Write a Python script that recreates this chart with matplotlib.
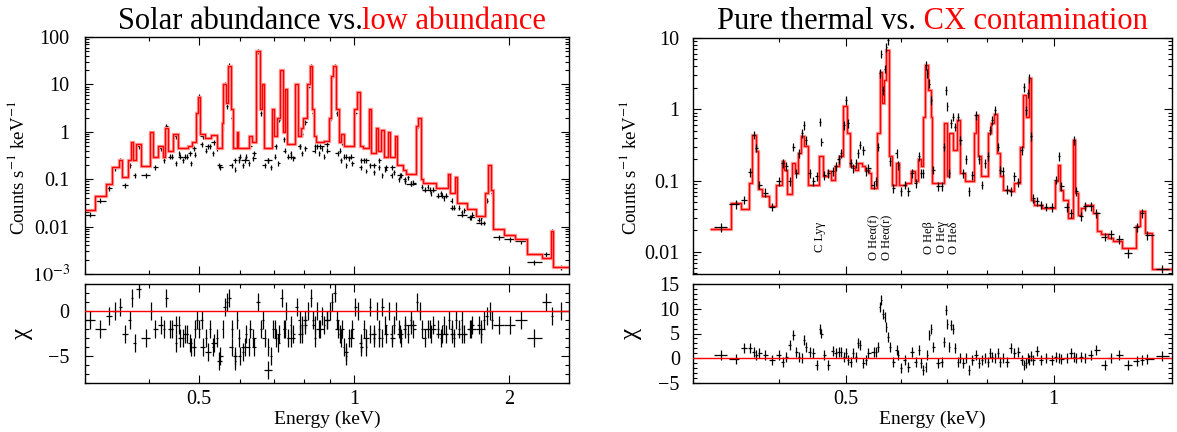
import numpy as np
import matplotlib
matplotlib.use('Agg')
import matplotlib.pyplot as plt
from matplotlib.ticker import FixedLocator, FixedFormatter, NullFormatter, LogLocator, MultipleLocator

plt.rcParams['font.family'] = ['Liberation Serif', 'DejaVu Serif']
plt.rcParams['mathtext.fontset'] = 'stix'

# ---------------- Left panel: solar vs low abundance ----------------
solar_edges = [0.300, 0.3139, 0.3291, 0.3381, 0.3491, 0.3538, 0.3641, 0.3690, 0.3715, 0.3778,
               0.3861, 0.4013, 0.4060, 0.4165, 0.4250, 0.4285, 0.4344, 0.4455, 0.4545, 0.4645,
               0.4764, 0.4845, 0.4927, 0.4980, 0.5028, 0.5140, 0.5272, 0.5406, 0.5545, 0.5573,
               0.5639, 0.5687, 0.5764, 0.5832, 0.5912, 0.5952, 0.6032, 0.6239, 0.6323, 0.6453,
               0.6561, 0.6616, 0.6673, 0.6925, 0.6995, 0.7101, 0.7198, 0.7283, 0.7357, 0.7420,
               0.7698, 0.7791, 0.7896, 0.7976, 0.8100, 0.8208, 0.8305, 0.8375, 0.8446, 0.8737,
               0.8958, 0.9034, 0.9109, 0.9235, 0.9344, 0.9423, 0.9583, 0.9745, 0.9993, 1.013,
               1.027, 1.042, 1.069, 1.082, 1.106, 1.115, 1.128, 1.144, 1.163, 1.173,
               1.203, 1.213, 1.244, 1.265, 1.319, 1.335, 1.353, 1.365, 1.447, 1.522,
               1.535, 1.574, 1.588, 1.656, 1.727, 1.801, 1.825, 1.847, 1.863, 1.960,
               2.061, 2.168, 2.318, 2.418, 2.439, 2.620]
low_model = [0.022, 0.045, 0.08, 0.18, 0.25, 0.11, 0.25, 0.6, 0.25, 0.55,
             0.19, 1.0, 0.3, 0.5, 0.3, 1.2, 0.4, 0.9, 0.45, 0.45,
             0.5, 0.6, 2.5, 5.5, 0.9, 0.75, 0.85, 0.45, 1.5, 10,
             4, 25, 3, 0.45, 1.0, 0.45, 0.45, 0.8, 0.6, 50,
             3, 10, 0.45, 3, 0.8, 2, 20, 1.0, 8, 0.55,
             10, 0.8, 1.2, 2.0, 10, 25, 3, 0.8, 0.6, 0.65,
             2, 15, 25, 3, 0.6, 0.9, 0.5, 0.5, 3, 7,
             0.5, 0.45, 3, 0.35, 1.2, 0.4, 1.1, 0.3, 1.0, 0.3,
             0.8, 0.2, 0.16, 0.13, 1.3, 2.0, 0.1, 0.085, 0.065, 0.13,
             0.05, 0.11, 0.032, 0.024, 0.017, 0.05, 0.2, 0.06, 0.009, 0.0065,
             0.0055, 0.0027, 0.0022, 0.008, 0.0014]
solar_data = [0.018, 0.035, 0.065, 0.17, 0.25, 0.075, 0.2, 0.55, 0.12, 0.5,
              0.12, 0.9, 0.18, 0.45, 0.25, 1.3, 0.3, 0.8, 0.3, 0.3,
              0.35, 0.45, 2.5, 5.5, 0.8, 0.5, 0.6, 0.2, 1.2, 10,
              3.5, 25, 2, 0.25, 0.8, 0.3, 0.25, 0.5, 0.35, 50,
              2.5, 9, 0.25, 2.5, 0.5, 1.8, 18, 0.7, 7, 0.3,
              9, 0.5, 0.9, 1.6, 9, 24, 2.5, 0.5, 0.5, 0.55,
              1.8, 14, 24, 2.5, 0.4, 0.6, 0.3, 0.3, 2.5, 6.5,
              0.25, 0.25, 2.5, 0.2, 0.9, 0.25, 0.8, 0.18, 0.7, 0.18,
              0.5, 0.12, 0.1, 0.08, 1.2, 1.8, 0.07, 0.06, 0.045, 0.08,
              0.025, 0.06, 0.018, 0.016, 0.012, 0.035, 0.18, 0.05, 0.006, 0.0055,
              0.005, 0.0018, 0.0026, 0.008, 0.0014]
solar_chi = [-1, -2, -0.5, 0, 0.5, -2.5, -1, 1.5, -3.5, 2.5,
             -3, 0, -2, -1.5, -2, 1.5, -2, -1.5, -3, -2.5,
             -3.5, -4, -1, -2, -4, -4.5, -3.5, -5.5, -2, 0.5,
             1, 1.5, -2, -5, -1, -5, -4, -2, -4, 1,
             -2, -1, -6.5, -2, -3, -2.5, 1.5, -2, 0, -3,
             0.5, -2.5, -1.5, -1, 0, 1.5, -1, -3, -2, -1,
             0, 1, 2, -1, -2.5, -2, -4.5, -3, 0.5, 0,
             -4, -3, 0.5, -2.5, 0, -3, 0.5, -2.5, 0, -3,
             0, -2.5, -2, -1.5, 1, 0, -2, -2, -2.5, -1,
             -2.5, -1, -2.5, -2, -2, -0.5, 0, -1, -1.5, -1.5,
             -1, -3, 1, -0.5, 0]
# extra finely binned continuum points of the solar spectrum
solar_fine_e = [0.442, 0.450, 0.458, 0.466, 0.474, 0.482, 0.490, 0.506, 0.515, 0.524,
                0.533, 0.542, 0.550, 0.580, 0.588, 0.598, 0.608, 0.617, 0.626, 0.636,
                0.672, 0.682, 0.690, 0.703, 0.713, 0.733, 0.746, 0.754, 0.762, 0.784,
                0.793, 0.803, 0.839, 0.848, 0.857, 0.866, 0.876, 0.886, 0.930, 0.945,
                0.955, 0.966, 0.978, 0.990, 1.034, 1.047, 1.058, 1.076, 1.092, 1.120,
                1.136, 1.152, 1.185, 1.195, 1.225, 1.236, 1.255, 1.275, 1.290, 1.305,
                1.375, 1.392, 1.410, 1.428, 1.460, 1.478, 1.497, 1.510, 1.550, 1.565,
                1.600, 1.620, 1.640, 1.680, 1.700, 1.750, 1.770, 1.790]
solar_fine = [0.3, 0.22, 0.35, 0.25, 0.3, 0.22, 0.33, 0.55, 0.4, 0.5,
              0.35, 0.45, 0.18, 0.2, 0.16, 0.25, 0.2, 0.3, 0.22, 0.28,
              0.2, 0.25, 0.18, 0.3, 0.22, 0.4, 0.3, 0.35, 0.28, 0.5,
              0.35, 0.45, 0.4, 0.5, 0.35, 0.45, 0.3, 0.4, 0.35, 0.25,
              0.3, 0.2, 0.28, 0.22, 0.18, 0.25, 0.15, 0.2, 0.14, 0.18,
              0.12, 0.16, 0.12, 0.14, 0.1, 0.12, 0.09, 0.11, 0.08, 0.085,
              0.06, 0.07, 0.05, 0.06, 0.045, 0.05, 0.04, 0.045, 0.035, 0.025,
              0.025, 0.02, 0.022, 0.016, 0.018, 0.014, 0.015, 0.012]
solar_fine_chi = [-2, -3.5, -1.5, -3, -2.5, -4, -2, -1, -3, -2,
                  -4, -3, -5, -4, -5.5, -3, -4.5, -2.5, -4, -3,
                  -3, -4, -5, -2, -3.5, -2, -3, -1.5, -2.5, -1,
                  -2.5, -1.5, -1.5, 0, -2, -0.5, -1.5, -1, -2, -3,
                  -4, -5, -3, -2, -3.5, -2, -4, -2.5, -3, -2,
                  -3, -1.5, -2.5, -1.5, -2, -3, -1.5, -2.5, -1, -2,
                  -3, -2, -2.5, -1.5, -2, -3, -1.5, -2.5, -2, -3,
                  -2, -1, -2.5, -2, -1.5, -1.5, -2.5, -1]

# ---------------- Right panel: pure thermal vs CX ----------------
cx_edges = [0.3172, 0.3410, 0.3518, 0.3620, 0.3656, 0.3702, 0.3730, 0.3777, 0.3862, 0.3959,
            0.4033, 0.4069, 0.4110, 0.4176, 0.4213, 0.4255, 0.4297, 0.4345, 0.4400, 0.4482,
            0.4567, 0.4624, 0.4711, 0.4758, 0.4818, 0.4878, 0.4951, 0.5013, 0.5063, 0.5152,
            0.5203, 0.5267, 0.5320, 0.5400, 0.5441, 0.5550, 0.5593, 0.5640, 0.5675, 0.5718,
            0.5769, 0.5821, 0.5908, 0.5967, 0.6118, 0.6210, 0.6288, 0.6350, 0.6414, 0.6469,
            0.6510, 0.6577, 0.6633, 0.6674, 0.6742, 0.6929, 0.6998, 0.7060, 0.7148, 0.7238,
            0.7310, 0.7447, 0.7654, 0.7710, 0.7767, 0.7846, 0.8043, 0.8124, 0.8196, 0.8268,
            0.8350, 0.8433, 0.8667, 0.8775, 0.8940, 0.9019, 0.9109, 0.9200, 0.9281, 0.9363,
            0.9634, 1.0062, 1.0137, 1.0214, 1.0316, 1.0510, 1.0681, 1.0747, 1.0842, 1.0977,
            1.1114, 1.1395, 1.1567, 1.1712, 1.1977, 1.2202, 1.2587, 1.3148, 1.3365, 1.3564,
            1.3906, 1.4851]
cx_model = [0.0207, 0.0488, 0.040, 0.093, 0.44, 0.257, 0.0766, 0.060, 0.044, 0.088,
            0.186, 0.142, 0.064, 0.177, 0.128, 0.243, 0.416, 0.301, 0.088, 0.088,
            0.218, 0.115, 0.135, 0.103, 0.158, 0.218, 1.1, 0.46, 0.158, 0.142,
            0.177, 0.158, 0.142, 0.128, 0.079, 0.46, 3.36, 1.21, 2.56, 6.7,
            0.218, 0.088, 0.177, 0.088, 0.093, 0.135, 0.098, 0.2, 0.158, 0.79,
            4.16, 1.86, 0.79, 0.093, 0.093, 0.64, 0.115, 0.46, 0.27, 0.71,
            0.128, 0.098, 0.46, 0.83, 0.218, 0.115, 0.46, 0.64, 0.87, 0.243,
            0.115, 0.073, 0.071, 0.093, 0.30, 1.58, 0.79, 2.71, 0.054, 0.046,
            0.0416, 0.098, 0.166, 0.075, 0.054, 0.030, 0.373, 0.067, 0.033, 0.0416,
            0.045, 0.0355, 0.0196, 0.0178, 0.0159, 0.0142, 0.0115, 0.023, 0.0373, 0.0187,
            0.0058]
thermal_e = [0.3289, 0.3461, 0.3562, 0.3629, 0.3675, 0.3707, 0.3744, 0.3814, 0.3910, 0.3998,
             0.4048, 0.4094, 0.4145, 0.4191, 0.4238, 0.4275, 0.4318, 0.4350, 0.4372, 0.4427,
             0.4482, 0.4539, 0.4584, 0.4607, 0.4653, 0.4711, 0.4782, 0.4831, 0.4878, 0.4921,
             0.4970, 0.5001, 0.5032, 0.5076, 0.5126, 0.5165, 0.5203, 0.5236, 0.5301, 0.5347,
             0.5387, 0.5482, 0.5523, 0.5565, 0.5600, 0.5621, 0.5656, 0.5691, 0.5720, 0.5748,
             0.5792, 0.5856, 0.5923, 0.5953, 0.6004, 0.6079, 0.6155, 0.6232, 0.6310, 0.6383,
             0.6430, 0.6470, 0.6527, 0.6560, 0.6608, 0.6649, 0.6691, 0.6800, 0.6885, 0.6929,
             0.6981, 0.7016, 0.7060, 0.7104, 0.7148, 0.7193, 0.7264, 0.7328, 0.7400, 0.7466,
             0.7540, 0.7606, 0.7730, 0.7798, 0.7866, 0.7965, 0.8024, 0.8094, 0.8145, 0.8226,
             0.8299, 0.8350, 0.8433, 0.8560, 0.8667, 0.8775, 0.8886, 0.8997, 0.9054, 0.9109,
             0.9177, 0.9224, 0.9281, 0.9339, 0.9456, 0.9598, 0.9754, 0.9938, 1.0088, 1.0188,
             1.0264, 1.0445, 1.0615, 1.0708, 1.0787, 1.0949, 1.1114, 1.1324, 1.1537, 1.1858,
             1.2126, 1.2432, 1.2823, 1.3230, 1.3428, 1.3682, 1.4379]
thermal_data = [0.022, 0.047, 0.054, 0.13, 0.44, 0.29, 0.088, 0.068, 0.043, 0.098,
                0.177, 0.158, 0.098, 0.30, 0.128, 0.24, 0.46, 0.60, 0.37, 0.128,
                0.098, 0.115, 0.67, 0.35, 0.12, 0.128, 0.135, 0.158, 0.20, 0.24,
                0.60, 1.35, 0.64, 0.177, 0.15, 0.177, 0.24, 0.32, 0.27, 0.135,
                0.15, 0.088, 0.098, 0.30, 3.2, 6.0, 1.86, 3.7, 7.5, 9.3,
                0.186, 0.079, 0.24, 0.166, 0.071, 0.088, 0.071, 0.128, 0.093, 0.218,
                0.128, 0.128, 4.16, 3.2, 2.3, 1.35, 0.142, 0.084, 0.084, 0.30,
                1.86, 1.1, 0.128, 0.64, 0.79, 0.57, 0.79, 0.37, 0.128, 0.20,
                0.071, 0.12, 0.83, 0.20, 0.088, 0.177, 0.218, 0.51, 0.71, 0.98,
                0.30, 0.142, 0.135, 0.075, 0.071, 0.115, 0.095, 0.27, 2.05, 0.98,
                1.67, 2.71, 0.42, 0.057, 0.052, 0.046, 0.043, 0.042, 0.103, 0.218,
                0.084, 0.042, 0.035, 0.37, 0.071, 0.032, 0.044, 0.044, 0.035, 0.0164,
                0.0178, 0.015, 0.0097, 0.022, 0.035, 0.017, 0.0058]
thermal_chi = [0.7, -0.2, 2.0, 2.0, 1.3, 0.7, 1.0, 0.7, -0.3, 0.7,
               -0.7, 0.3, 2.7, 4.7, 1.3, 0.3, 0.0, 3.7, 2.3, 1.3,
               1.0, -1.3, 6.0, 5.0, 0.7, -1.3, 1.5, 1.0, 1.3, 1.3,
               0.3, 1.0, -0.3, -0.7, 1.0, 0.3, 3.0, 2.7, -1.0, -0.3,
               1.0, 1.3, 1.3, 2.3, 10.3, 11.7, 9.0, 8.3, 6.3, 4.3,
               2.3, -0.7, 1.7, 0.7, -2.0, -0.3, -1.7, 1.3, -0.7, 1.7,
               -1.0, -2.3, -1.7, 0.7, 4.7, 6.0, 2.3, -1.0, -0.7, 3.3,
               9.7, 7.0, 2.3, 6.7, 6.0, 2.0, -0.7, 0.0, -1.0, 0.0,
               -2.3, -0.3, 0.7, -1.0, -0.3, 0.0, -0.7, 1.0, 0.3, 0.0,
               1.0, -0.7, 0.0, -0.7, 2.0, 1.0, 1.3, -0.3, -1.3, -1.0,
               0.0, -0.3, 0.5, -0.3, 1.5, -0.3, 0.0, -0.3, 0.2, 0.0,
               -0.2, 0.0, 1.1, 0.3, 0.0, 0.3, 0.0, 0.7, 1.7, -1.3,
               0.0, 0.7, -1.3, -0.5, -0.3, -0.2, 0.5]

line_labels = ['C Ly\u03b3', 'O He\u03b1(f)', 'O He\u03b1(r)', 'O He\u03b2', 'O He\u03b3', 'O He\u03b4']
line_label_e = [0.459, 0.550, 0.574, 0.659, 0.688, 0.716]

solar_rel_err = 0.12
thermal_rel_err = 0.14

assert len(solar_edges) == len(low_model) + 1 == len(solar_data) + 1 == len(solar_chi) + 1
assert len(solar_fine_e) == len(solar_fine) == len(solar_fine_chi)
assert len(cx_edges) == len(cx_model) + 1
assert len(thermal_e) == len(thermal_data) == len(thermal_chi)

# ---------------- Figure ----------------
W, H = 1177, 432
fig = plt.figure(figsize=(W / 100, H / 100), dpi=100)


def add_axes(x0, x1, y0, y1):
    return fig.add_axes([x0 / W, 1 - y1 / H, (x1 - x0) / W, (y1 - y0) / H])


axL = add_axes(85, 569, 37, 274)
axLr = add_axes(85, 569, 284, 383)
axR = add_axes(693, 1172, 38, 274)
axRr = add_axes(693, 1172, 284, 383)

TICK_FS = 14.5
LABEL_FS = 14


def style(ax, ypad):
    ax.tick_params(which='both', direction='in', top=True, right=True,
                   labelsize=TICK_FS, width=0.8, colors='black')
    ax.tick_params(which='major', length=6)
    ax.tick_params(which='minor', length=3)
    ax.tick_params(axis='y', which='both', pad=ypad)
    ax.tick_params(axis='x', which='both', pad=5)
    for s in ax.spines.values():
        s.set_linewidth(1.0)


def draw_model(ax, edges, vals):
    ax.stairs(vals, edges, baseline=None, color=(1.0, 0.62, 0.62), lw=2.4, zorder=2)
    ax.stairs(vals, edges, baseline=None, color='red', lw=1.0, zorder=3)


def binned_errorbars(ax, edges, yvals, yerr, zorder=4):
    e = np.asarray(edges)
    lo, hi = e[:-1], e[1:]
    xc = np.sqrt(lo * hi)
    ax.errorbar(xc, yvals, xerr=[xc - lo, hi - xc], yerr=yerr, fmt='none',
                ecolor='black', elinewidth=0.9, zorder=zorder)


def point_errorbars(ax, xs, yvals, yerr, frac=0.85, zorder=4):
    x = np.asarray(xs)
    mids = np.sqrt(x[:-1] * x[1:])
    lo = np.concatenate([[x[0] ** 2 / mids[0]], mids])
    hi = np.concatenate([mids, [x[-1] ** 2 / mids[-1]]])
    lo = x - frac * (x - lo)
    hi = x + frac * (hi - x)
    ax.errorbar(x, yvals, xerr=[x - lo, hi - x], yerr=yerr, fmt='none',
                ecolor='black', elinewidth=0.9, zorder=zorder)


# ---- left top
sd = np.array(solar_data)
binned_errorbars(axL, solar_edges, sd, [sd * solar_rel_err, sd * solar_rel_err], zorder=2)
sf = np.array(solar_fine)
point_errorbars(axL, solar_fine_e, sf, [sf * solar_rel_err, sf * solar_rel_err], frac=0.5, zorder=2)
draw_model(axL, solar_edges, low_model)
axL.set_xscale('log')
axL.set_yscale('log')
axL.set_xlim(0.30, 2.62)
axL.set_ylim(1e-3, 100)
axL.yaxis.set_major_locator(FixedLocator([1e-3, 1e-2, 0.1, 1, 10, 100]))
axL.yaxis.set_major_formatter(FixedFormatter(['$10^{-3}$', '0.01', '0.1', '1', '10', '100']))
axL.yaxis.set_minor_locator(LogLocator(base=10, subs=np.arange(2, 10), numticks=20))
axL.yaxis.set_minor_formatter(NullFormatter())

# ---- left residual
sc = np.array(solar_chi)
binned_errorbars(axLr, solar_edges, sc, np.ones_like(sc))
sfc = np.array(solar_fine_chi)
point_errorbars(axLr, solar_fine_e, sfc, np.ones_like(sfc), frac=0.5)
axLr.axhline(0, color='red', lw=1.0, zorder=5)
axLr.set_xscale('log')
axLr.set_xlim(0.30, 2.62)
axLr.set_ylim(-8, 3)
axLr.yaxis.set_major_locator(FixedLocator([-5, 0]))
axLr.yaxis.set_major_formatter(FixedFormatter(['\u22125', '0']))
axLr.yaxis.set_minor_locator(MultipleLocator(1))

# ---- right top
td = np.array(thermal_data)
draw_model(axR, cx_edges, cx_model)
point_errorbars(axR, thermal_e, td, [td * thermal_rel_err, td * thermal_rel_err])
axR.set_xscale('log')
axR.set_yscale('log')
axR.set_xlim(0.30, 1.485)
axR.set_ylim(0.0049, 10)
axR.yaxis.set_major_locator(FixedLocator([0.01, 0.1, 1, 10]))
axR.yaxis.set_major_formatter(FixedFormatter(['0.01', '0.1', '1', '10']))
axR.yaxis.set_minor_locator(LogLocator(base=10, subs=np.arange(2, 10), numticks=20))
axR.yaxis.set_minor_formatter(NullFormatter())
for lab, e in zip(line_labels, line_label_e):
    axR.text(e, 0.155, lab, rotation=90, ha='center', va='center', fontsize=9,
             transform=axR.get_xaxis_transform(), zorder=6)

# ---- right residual
tc = np.array(thermal_chi)
point_errorbars(axRr, thermal_e, tc, np.ones_like(tc))
axRr.axhline(0, color='red', lw=1.0, zorder=5)
axRr.set_xscale('log')
axRr.set_xlim(0.30, 1.485)
axRr.set_ylim(-5, 15)
axRr.yaxis.set_major_locator(FixedLocator([-5, 0, 5, 10, 15]))
axRr.yaxis.set_major_formatter(FixedFormatter(['\u22125', '0', '5', '10', '15']))
axRr.yaxis.set_minor_locator(MultipleLocator(1))

# ---- x axes
for ax, majors, ypad in ((axL, [0.5, 1, 2], 11), (axLr, [0.5, 1, 2], 11),
                         (axR, [0.5, 1], 9.5), (axRr, [0.5, 1], 9.5)):
    ax.xaxis.set_major_locator(FixedLocator(majors))
    ax.xaxis.set_minor_locator(FixedLocator([0.3, 0.4, 0.6, 0.7, 0.8, 0.9]))
    ax.xaxis.set_minor_formatter(NullFormatter())
    style(ax, ypad)
for ax in (axL, axR):
    ax.xaxis.set_major_formatter(NullFormatter())
for ax, majors in ((axLr, ['0.5', '1', '2']), (axRr, ['0.5', '1'])):
    ax.xaxis.set_major_formatter(FixedFormatter(majors))
    ax.set_xlabel('Energy (keV)', fontsize=LABEL_FS, labelpad=1)

ylab = r'Counts s$^{-1}$ keV$^{-1}$'
axL.set_ylabel(ylab, fontsize=13.5)
axL.yaxis.set_label_coords(-0.118, 0.45)
axR.set_ylabel(ylab, fontsize=13.5)
axR.yaxis.set_label_coords(-0.110, 0.45)
axLr.set_ylabel('\u03c7', fontsize=LABEL_FS + 4)
axLr.yaxis.set_label_coords(-0.108, 0.5)
axRr.set_ylabel('\u03c7', fontsize=LABEL_FS + 4)
axRr.yaxis.set_label_coords(-0.106, 0.5)

# ---- two-colour titles
TITLE_FS = 22
renderer = fig.canvas.get_renderer()


def two_color_title(ax, parts, y_px, shift_px=0):
    texts = [fig.text(0, 1 - y_px / H, s, color=c, fontsize=TITLE_FS, ha='left', va='baseline')
             for s, c in parts]
    widths = [t.get_window_extent(renderer).width for t in texts]
    bb = ax.get_window_extent(renderer)
    x = (bb.x0 + bb.x1) / 2 - sum(widths) / 2 + shift_px
    for t, w in zip(texts, widths):
        t.set_x(x / W)
        x += w


two_color_title(axL, [('Solar abundance vs.', 'black'), ('low abundance', 'red')], 29, shift_px=5)
two_color_title(axR, [('Pure thermal vs.', 'black'), (' CX contamination', 'red')], 29)

fig.savefig('out.png', dpi=100)
